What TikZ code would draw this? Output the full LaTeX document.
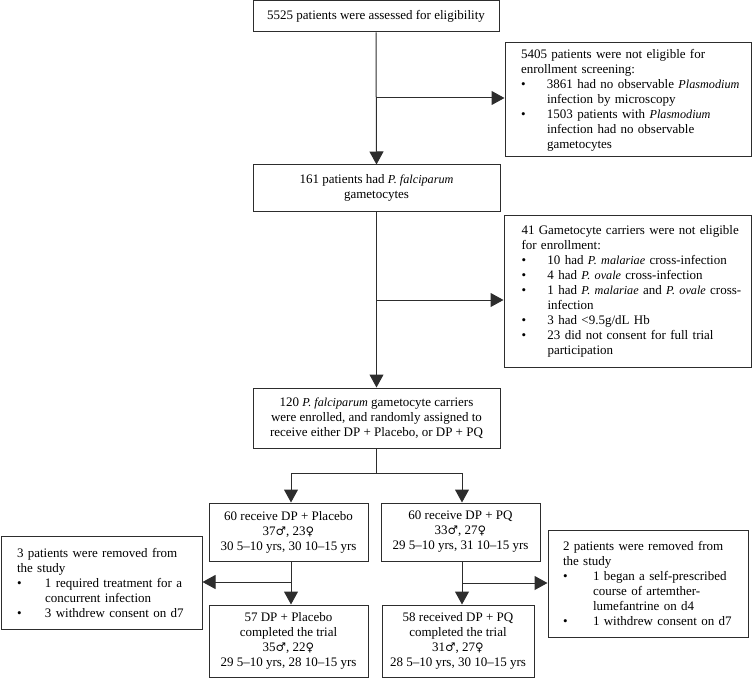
\documentclass[tikz,border=0pt]{standalone}
\usepackage{fontspec}
\setmainfont{Liberation Serif}
\newfontfamily\symf[Scale=0.9]{DejaVu Serif}
\usetikzlibrary{arrows.meta}
\definecolor{lncol}{RGB}{45,45,45}
\newcommand{\bulx}[1][26pt]{\makebox[#1][l]{\textbullet}}
\newcommand{\indx}[1][26pt]{\hspace*{#1}}
\newcommand{\itx}[1]{{\fontsize{12.2}{15}\selectfont\itshape #1}}
\newcommand{\mal}{{\symf\char"2642}}
\newcommand{\fem}{{\symf\char"2640}}
\begin{document}
\begin{tikzpicture}[x=1pt,y=-1pt,
  flowbox/.style={draw=lncol, line width=1pt, inner sep=0pt, align=center,
    font=\fontsize{13}{15}\selectfont},
  textonly/.style={inner sep=0pt, align=left, font=\fontsize{13}{15}\selectfont},
  plain/.style={draw=lncol, line width=1pt},
  arr/.style={draw=lncol, line width=1pt, -{Triangle[length=13pt,width=14pt]}}]
\useasboundingbox (0,0) rectangle (754,679);

\node[flowbox, minimum width=246pt, minimum height=31pt] (n1) at (376,16.5)
  {5525 patients were assessed for eligibility};

\node[flowbox, minimum width=246pt, minimum height=114pt] (n2) at (628,100) {};
\node[textonly, text width=226pt, xshift=6pt] (n2t) at (n2.center)
  {5405 patients were not eligible for\\
   enrollment screening:\\
   \bulx 3861 had no observable \itx{Plasmodium}\\
   \indx infection by microscopy\\
   \bulx 1503 patients with \itx{Plasmodium}\\
   \indx infection had no observable\\
   \indx gametocytes};

\node[flowbox, minimum width=247pt, minimum height=46pt] (n3) at (376.5,188)
  {161 patients had \itx{P. falciparum}\\ gametocytes};

\node[flowbox, minimum width=247pt, minimum height=152pt] (n4) at (627.5,291) {};
\node[textonly, text width=228pt, xshift=8pt] (n4t) at (n4.center)
  {41 Gametocyte carriers were not eligible\\
   for enrollment:\\
   \bulx 10 had \itx{P. malariae} cross-infection\\
   \bulx 4 had \itx{P. ovale} cross-infection\\
   \bulx 1 had \itx{P. malariae} and \itx{P. ovale} cross-\\
   \indx infection\\
   \bulx 3 had <9.5g/dL Hb\\
   \bulx 23 did not consent for full trial\\
   \indx participation};

\node[flowbox, minimum width=247pt, minimum height=60pt] (n5) at (376.5,418)
  {120 \itx{P. falciparum} gametocyte carriers\\
   were enrolled, and randomly assigned to\\
   receive either DP + Placebo, or DP + PQ};

\node[flowbox, minimum width=159pt, minimum height=58pt] (n6) at (288.5,532)
  {60 receive DP + Placebo\\ 37\mal, 23\fem\\ 30 5--10 yrs, 30 10--15 yrs};

\node[flowbox, minimum width=159pt, minimum height=58pt] (n7) at (460.5,532)
  {60 receive DP + PQ\\ 33\mal, 27\fem\\ 29 5--10 yrs, 31 10--15 yrs};

\node[flowbox, minimum width=159pt, minimum height=72pt] (n8) at (288.5,641)
  {57 DP + Placebo\\ completed the trial\\ 35\mal, 22\fem\\ 29 5--10 yrs, 28 10--15 yrs};

\node[flowbox, minimum width=152pt, minimum height=72pt] (n11) at (458,641)
  {58 received DP + PQ\\ completed the trial\\ 31\mal, 27\fem\\ 28 5--10 yrs, 30 10--15 yrs};

\node[flowbox, minimum width=201pt, minimum height=93pt] (n9) at (101.5,582.5) {};
\node[textonly, text width=181pt, xshift=6pt] (n9t) at (n9.center)
  {3 patients were removed from\\
   the study\\
   \bulx[28pt]1 required treatment for a\\
   \indx[28pt]concurrent infection\\
   \bulx[28pt]3 withdrew consent on d7};

\node[flowbox, minimum width=200pt, minimum height=107pt] (n10) at (648,583.5) {};
\node[textonly, text width=182pt, xshift=6pt] (n10t) at (n10.center)
  {2 patients were removed from\\
   the study\\
   \bulx[30pt]1 began a self-prescribed\\
   \indx[30pt]course of artemther-\\
   \indx[30pt]lumefantrine on d4\\
   \bulx[30pt]1 withdrew consent on d7};

% connectors
\coordinate (b1) at (376,98);
\draw[arr] (n1.south) -- (n3.north);
\draw[arr] (b1) -- (b1 -| n2.west);

\coordinate (b2) at (376.5,300);
\draw[arr] (n3.south) -- (n5.north);
\draw[arr] (b2) -- (b2 -| n4.west);

\coordinate (s) at (376.5,473);
\coordinate (sL) at (291,473);
\coordinate (sR) at (462,473);
\draw[plain] (n5.south) -- (s);
\draw[plain] (sL) -- (sR);
\draw[arr] (sL) -- (sL |- n6.north);
\draw[arr] (sR) -- (sR |- n7.north);

\coordinate (bL) at (291,582);
\coordinate (bR) at (462,583);
\draw[arr] (bL |- n6.south) -- (bL |- n8.north);
\draw[arr] (bL) -- (bL -| n9.east);
\draw[arr] (bR |- n7.south) -- (bR |- n11.north);
\draw[arr] (bR) -- (bR -| n10.west);
\end{tikzpicture}
\end{document}
